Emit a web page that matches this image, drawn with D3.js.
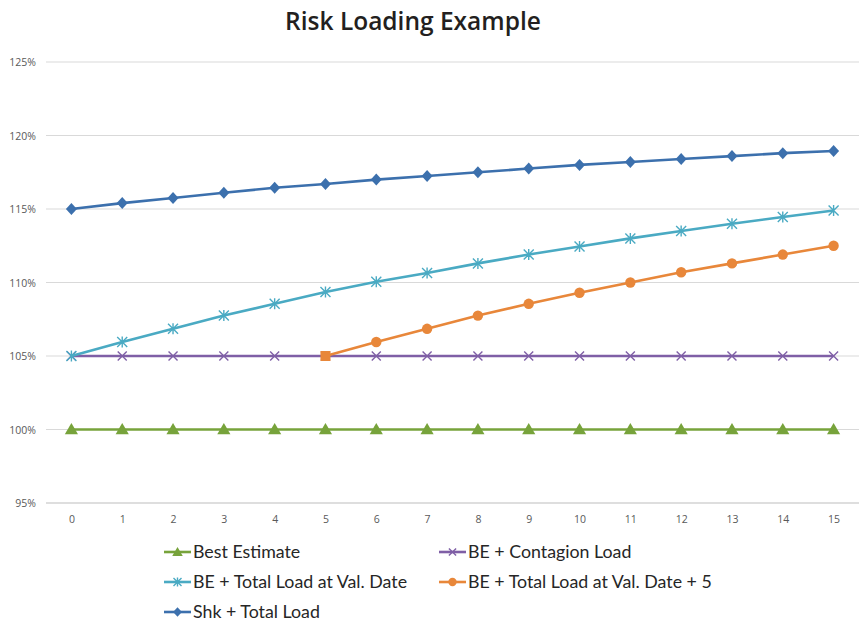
<!DOCTYPE html>
<html><head><meta charset="utf-8">
<script src="https://cdn.jsdelivr.net/npm/d3@7"></script>
<style>body{margin:0;background:#fff}svg{display:block}</style>
</head><body>
<svg id="c" width="865" height="621"></svg>
<script>
const years = [0,1,2,3,4,5,6,7,8,9,10,11,12,13,14,15];
const yTicks = [95,100,105,110,115,120,125];
const bestEstimate = [100,100,100,100,100,100,100,100,100,100,100,100,100,100,100,100];
const contagion = [105,105,105,105,105,105,105,105,105,105,105,105,105,105,105,105];
const totalValDate = [105,105.95,106.85,107.75,108.55,109.35,110.05,110.65,111.3,111.9,112.45,113.0,113.5,114.0,114.45,114.9];
const totalValDate5 = [null,null,null,null,null,105,105.95,106.85,107.75,108.55,109.3,110.0,110.7,111.3,111.9,112.5];
const shkTotal = [115,115.4,115.75,116.1,116.45,116.7,117.0,117.25,117.5,117.75,118.0,118.2,118.4,118.6,118.8,118.95];
const seriesNames = ["Best Estimate","BE + Contagion Load","BE + Total Load at Val. Date","BE + Total Load at Val. Date + 5","Shk + Total Load"];

const series = [
  {name:seriesNames[0], values:bestEstimate, color:"#77a33b", marker:"triangle"},
  {name:seriesNames[1], values:contagion, color:"#7f5fa6", marker:"x"},
  {name:seriesNames[2], values:totalValDate, color:"#4aaac3", marker:"star"},
  {name:seriesNames[3], values:totalValDate5, color:"#e8873a", marker:"circle"},
  {name:seriesNames[4], values:shkTotal, color:"#3c70ad", marker:"diamond"}
];

const svg = d3.select("#c");
const L=46, R=859, T=62, B=503;
const x = d3.scalePoint().domain(years).range([L,R]).padding(0.5);
const y = d3.scaleLinear().domain([95,125]).range([B,T]);

svg.append("text").attr("x",413).attr("y",29.5).attr("text-anchor","middle")
  .attr("font-family","'Open Sans', sans-serif").attr("font-weight","600")
  .attr("font-size",24.5).attr("fill","#231f20").text("Risk Loading Example");

// grid
svg.append("g").selectAll("line").data(yTicks).join("line")
  .attr("x1",L).attr("x2",R).attr("y1",d=>y(d)).attr("y2",d=>y(d))
  .attr("stroke",d=>d===95?"#bdbdbd":"#d9d9d9").attr("stroke-width",1.2);

// y axis labels
svg.append("g").selectAll("text").data(yTicks).join("text")
  .attr("x",36).attr("y",d=>y(d)+4).attr("text-anchor","end")
  .attr("font-family","'Open Sans', sans-serif").attr("font-size",10.5).attr("fill","#595959")
  .text(d=>d+"%");

// x axis
const xa = svg.append("g").attr("transform",`translate(0,${B})`)
  .call(d3.axisBottom(x).tickSize(0).tickPadding(13));
xa.select(".domain").remove();
xa.selectAll("text").attr("font-family","'Open Sans', sans-serif").attr("font-size",10.5).attr("fill","#595959");

function drawMarker(g, type, color, cx, cy, s) {
  s = s||1;
  if (type==="triangle") {
    g.append("path").attr("d",d3.symbol(d3.symbolTriangle, 75*s*s)()).attr("transform",`translate(${cx},${cy+1})`).attr("fill",color);
  } else if (type==="diamond") {
    g.append("path").attr("d",`M0,-6L5.5,0L0,6L-5.5,0Z`).attr("transform",`translate(${cx},${cy}) scale(${s})`).attr("fill",color);
  } else if (type==="circle") {
    g.append("circle").attr("cx",cx).attr("cy",cy).attr("r",5.2*s).attr("fill",color);
  } else if (type==="square") {
    g.append("rect").attr("x",cx-5).attr("y",cy-5).attr("width",10).attr("height",10).attr("fill",color);
  } else if (type==="x") {
    const r=4.5*s;
    g.append("path").attr("d",`M${-r},${-r}L${r},${r}M${-r},${r}L${r},${-r}`).attr("transform",`translate(${cx},${cy})`).attr("stroke",color).attr("stroke-width",1.4).attr("fill","none");
  } else if (type==="star") {
    const r=5*s;
    g.append("path").attr("d",`M${-r},${-r}L${r},${r}M${-r},${r}L${r},${-r}M0,${-r*1.1}L0,${r*1.1}`).attr("transform",`translate(${cx},${cy})`).attr("stroke",color).attr("stroke-width",1.4).attr("fill","none");
  }
}

const line = d3.line().defined(d=>d.v!=null).x(d=>x(d.t)).y(d=>y(d.v));
series.forEach(s=>{
  const pts = years.map((t,i)=>({t, v:s.values[i]}));
  const g = svg.append("g");
  g.append("path").datum(pts).attr("d",line).attr("fill","none").attr("stroke",s.color).attr("stroke-width",2.6).attr("stroke-linejoin","round");
  const valid = pts.filter(p=>p.v!=null);
  valid.forEach((p,k)=>{
    const type = (s.marker==="circle" && k===0) ? "square" : s.marker;
    drawMarker(g, type, s.color, x(p.t), y(p.v));
  });
});

// legend
const legPos = [[164,552],[439,552],[164,582],[439,582],[164,612]];
series.forEach((s,i)=>{
  const [lx,ly] = legPos[i];
  const g = svg.append("g");
  g.append("line").attr("x1",lx).attr("x2",lx+27).attr("y1",ly).attr("y2",ly).attr("stroke",s.color).attr("stroke-width",2.6);
  drawMarker(g, s.marker, s.color, lx+13.5, ly, 0.8);
  g.append("text").attr("x",lx+29).attr("y",ly+6).attr("font-family","Lato, 'Open Sans', sans-serif")
    .attr("font-size",17.8).attr("fill","#262626").text(s.name);
});
</script>
</body></html>
